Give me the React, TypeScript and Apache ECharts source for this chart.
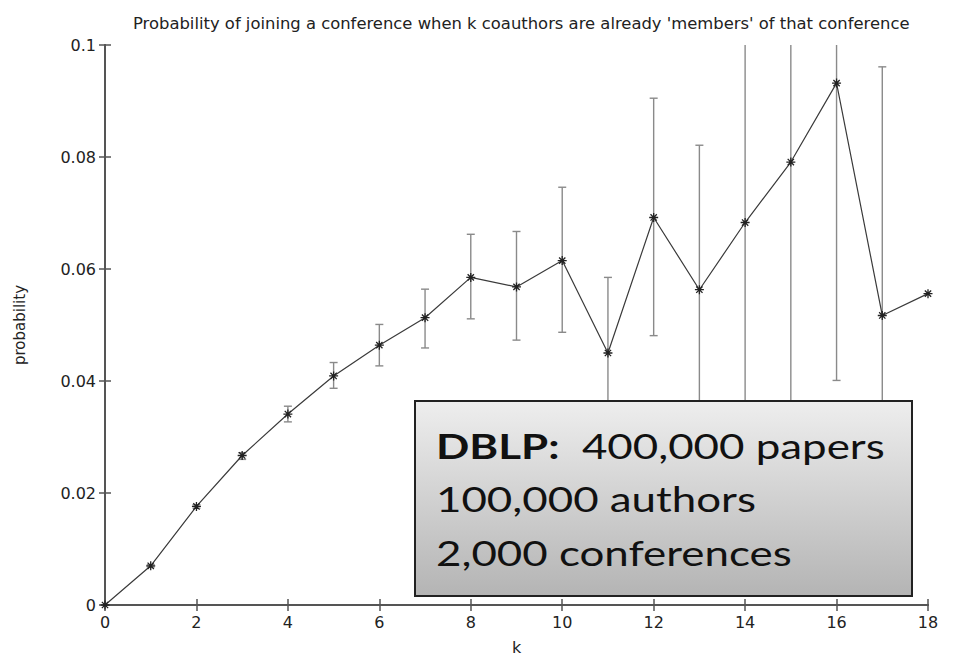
import React, { useEffect, useRef } from "react";
import * as echarts from "echarts";

const kValues = [0, 1, 2, 3, 4, 5, 6, 7, 8, 9, 10, 11, 12, 13, 14, 15, 16, 17, 18];
const probability = [0, 0.0070, 0.0176, 0.0267, 0.0341, 0.0409, 0.0464, 0.0513, 0.0585, 0.0568, 0.0615, 0.0450, 0.0692, 0.0563, 0.0683, 0.0791, 0.0932, 0.0517, 0.0556];
const errLow = [null, 0.0068, 0.0173, 0.0260, 0.0327, 0.0387, 0.0427, 0.0459, 0.0511, 0.0473, 0.0487, 0.0313, 0.0481, 0.0305, 0.0284, 0.0340, 0.0401, 0.0073, null];
const errHigh = [null, 0.0072, 0.0179, 0.0272, 0.0355, 0.0433, 0.0501, 0.0564, 0.0662, 0.0667, 0.0746, 0.0585, 0.0905, 0.0821, 0.1082, 0.1240, 0.1463, 0.0961, null];

const titleText = "Probability of joining a conference when k coauthors are already 'members' of that conference";
const boxLines = ["{b|DBLP:}  400,000 papers", "100,000 authors", "2,000 conferences"];

export default function App() {
  const ref = useRef<HTMLDivElement>(null);
  useEffect(() => {
    if (!ref.current) return;
    const chart = echarts.init(ref.current, null, { renderer: "svg" });
    const lineData = kValues.map((k, i) => [k, probability[i]]);
    const errData = kValues
      .map((k, i) => [k, errLow[i], errHigh[i]])
      .filter((d) => d[1] != null);
    const axisFont = "DejaVu Sans";
    const boxTextStyle = { fontFamily: "Lato", fontSize: 34, fill: "#111", verticalAlign: "middle" };
    const option: any = {
      animation: false,
      backgroundColor: "#ffffff",
      title: {
        text: titleText,
        left: 128,
        top: 10,
        textStyle: { fontFamily: axisFont, fontSize: 16.4, fontWeight: "normal", color: "#222" },
      },
      grid: { left: 105, right: 27, top: 45, bottom: 55, containLabel: false },
      xAxis: [
        {
          type: "value",
          min: 0,
          max: 18,
          interval: 2,
          position: "bottom",
          name: "k",
          nameLocation: "middle",
          nameGap: 34,
          nameTextStyle: { fontFamily: axisFont, fontSize: 16, color: "#222" },
          axisLine: { show: true, lineStyle: { color: "#555", width: 2 } },
          axisTick: { show: true, inside: true, length: 6, lineStyle: { color: "#555", width: 1.5 } },
          axisLabel: { fontFamily: axisFont, fontSize: 16, color: "#222", margin: 9 },
          splitLine: { show: false },
        },
        {
          type: "value",
          min: 0,
          max: 18,
          interval: 2,
          position: "top",
          axisLine: { show: true, lineStyle: { color: "#555", width: 2 } },
          axisTick: { show: true, inside: true, length: 6, lineStyle: { color: "#555", width: 1.5 } },
          axisLabel: { show: false },
          splitLine: { show: false },
        },
      ],
      yAxis: [
        {
          type: "value",
          min: 0,
          max: 0.1,
          interval: 0.02,
          position: "left",
          name: "probability",
          nameLocation: "middle",
          nameGap: 78,
          nameRotate: 90,
          nameTextStyle: { fontFamily: axisFont, fontSize: 15, color: "#222" },
          axisLine: { show: true, lineStyle: { color: "#555", width: 2 } },
          axisTick: { show: true, inside: true, length: 6, lineStyle: { color: "#555", width: 1.5 } },
          axisLabel: {
            fontFamily: axisFont,
            fontSize: 16,
            color: "#222",
            margin: 9,
            formatter: (v: number) => String(parseFloat(v.toFixed(3))),
          },
          splitLine: { show: false },
        },
        {
          type: "value",
          min: 0,
          max: 0.1,
          interval: 0.02,
          position: "right",
          axisLine: { show: true, lineStyle: { color: "#555", width: 2 } },
          axisTick: { show: true, inside: true, length: 6, lineStyle: { color: "#555", width: 1.5 } },
          axisLabel: { show: false },
          splitLine: { show: false },
        },
      ],
      series: [
        {
          type: "custom",
          xAxisIndex: 0,
          yAxisIndex: 0,
          clip: true,
          z: 2,
          data: errData,
          renderItem: (params: any, api: any) => {
            const x = api.value(0);
            const lo = api.coord([x, api.value(1)]);
            const hi = api.coord([x, api.value(2)]);
            const cap = 4;
            const style = { stroke: "#8a8a8a", lineWidth: 1.4 };
            return {
              type: "group",
              children: [
                { type: "line", shape: { x1: lo[0], y1: lo[1], x2: hi[0], y2: hi[1] }, style },
                { type: "line", shape: { x1: lo[0] - cap, y1: lo[1], x2: lo[0] + cap, y2: lo[1] }, style },
                { type: "line", shape: { x1: hi[0] - cap, y1: hi[1], x2: hi[0] + cap, y2: hi[1] }, style },
              ],
            };
          },
        },
        {
          type: "line",
          xAxisIndex: 0,
          yAxisIndex: 0,
          data: lineData,
          z: 3,
          lineStyle: { color: "#3a3a3a", width: 1.2 },
          symbol: "path://M0,5L10,5M5,0L5,10M1.5,1.5L8.5,8.5M8.5,1.5L1.5,8.5",
          symbolSize: 9,
          showSymbol: true,
          itemStyle: { color: "transparent", borderColor: "#222", borderWidth: 1.3 },
        },
      ],
      graphic: [
        {
          type: "rect",
          z: 100,
          shape: { x: 415, y: 401, width: 497, height: 195 },
          style: {
            fill: new echarts.graphic.LinearGradient(0, 0, 0, 1, [
              { offset: 0, color: "#eeeeee" },
              { offset: 1, color: "#b4b4b4" },
            ]),
            stroke: "#222",
            lineWidth: 2,
          },
        },
        {
          type: "text",
          z: 101,
          x: 436,
          y: 446,
          scaleX: 1.29,
          style: {
            ...boxTextStyle,
            text: boxLines[0],
            rich: { b: { fontFamily: "Lato", fontSize: 34, fontWeight: "bold", fill: "#111" } },
          },
        },
        {
          type: "text",
          z: 101,
          x: 436,
          y: 499,
          scaleX: 1.29,
          style: { ...boxTextStyle, text: boxLines[1] },
        },
        {
          type: "text",
          z: 101,
          x: 436,
          y: 553,
          scaleX: 1.29,
          style: { ...boxTextStyle, text: boxLines[2] },
        },
      ],
    };
    chart.setOption(option);
    return () => chart.dispose();
  }, []);
  return <div ref={ref} style={{ width: 955, height: 660, position: "absolute", left: 0, top: 0 }} />;
}
